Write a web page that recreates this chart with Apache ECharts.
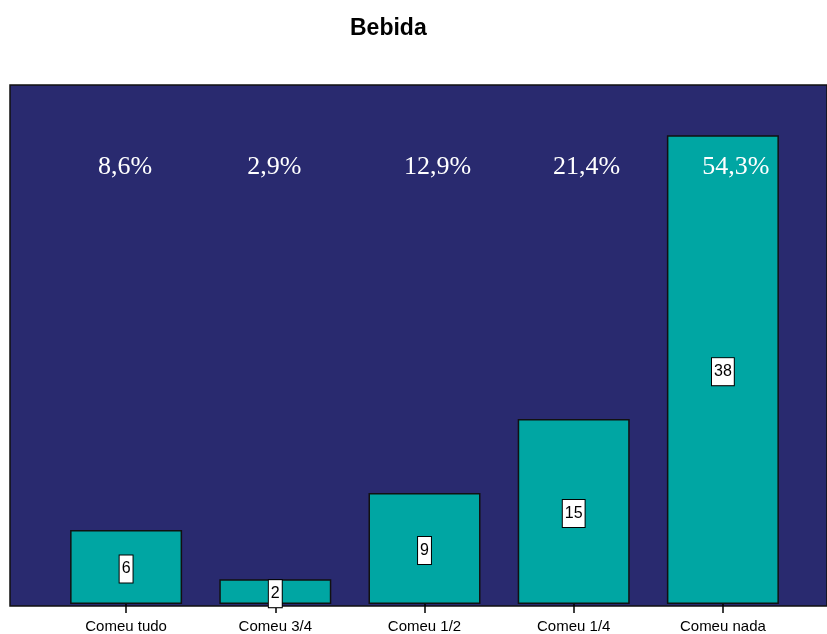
<!DOCTYPE html>
<html>
<head>
<meta charset="utf-8">
<script src="https://cdn.jsdelivr.net/npm/echarts@6/dist/echarts.min.js"></script>
<style>
  html, body { margin: 0; padding: 0; background: #ffffff; }
  #chart { width: 827px; height: 634px; }
</style>
</head>
<body>
<div id="chart"></div>
<script>
// Categories and counts
var categories = ['Comeu tudo', 'Comeu 3/4', 'Comeu 1/2', 'Comeu 1/4', 'Comeu nada'];
var counts = [6, 2, 9, 15, 38];
var yMax = 42;
var pctLevel = 35.4; // height (in count units) where the percentage row sits

var total = counts.reduce(function (a, b) { return a + b; }, 0);
var percentLabels = counts.map(function (c) {
  return (c / total * 100).toFixed(1).replace('.', ',') + '%';
});

var chart = echarts.init(document.getElementById('chart'));

chart.setOption({
  animation: false,
  backgroundColor: '#ffffff',
  title: {
    text: 'Bebida',
    left: 345,
    top: 12,
    textStyle: { fontFamily: 'Liberation Sans, Arial, sans-serif', fontSize: 23, fontWeight: 'bold', color: '#000' }
  },
  grid: [
    // dark panel behind the bars
    { left: 10, right: 0, top: 85, bottom: 28, show: true, backgroundColor: '#292a6f', borderColor: '#111', borderWidth: 1.5 },
    // bars
    { left: 51.5, right: 29.5, top: 86, bottom: 28 }
  ],
  xAxis: [
    { gridIndex: 0, type: 'value', min: 0, max: 1, show: false },
    {
      gridIndex: 1,
      type: 'category',
      data: categories,
      axisLine: { show: false },
      axisTick: { show: true, alignWithLabel: true, length: 9, lineStyle: { color: '#000', width: 1.5 } },
      axisLabel: { color: '#000', fontFamily: 'Liberation Sans, Arial, sans-serif', fontSize: 15, margin: 15 }
    }
  ],
  yAxis: [
    { gridIndex: 0, type: 'value', min: 0, max: 1, show: false },
    { gridIndex: 1, type: 'value', min: 0, max: yMax, show: false }
  ],
  series: [
    {
      type: 'bar',
      xAxisIndex: 1,
      yAxisIndex: 1,
      data: counts,
      barWidth: 112,
      itemStyle: { color: '#00a6a3', borderColor: '#111', borderWidth: 1.5 },
      label: {
        show: true,
        position: 'inside',
        offset: [0, 2],
        color: '#000',
        fontFamily: 'Liberation Sans, Arial, sans-serif',
        fontSize: 16,
        backgroundColor: '#ffffff',
        borderColor: '#000',
        borderWidth: 1,
        padding: [6, 2, 5, 2]
      }
    },
    {
      type: 'scatter',
      xAxisIndex: 1,
      yAxisIndex: 1,
      symbolSize: 0,
      silent: true,
      z: 5,
      itemStyle: { opacity: 1 },
      data: categories.map(function (c, i) {
        return {
          value: [i, pctLevel],
          label: { offset: [percentLabels[i].length > 4 ? 13 : -1, 0] }
        };
      }),
      label: {
        show: true,
        position: 'inside',
        color: '#ffffff',
        opacity: 1,
        fontFamily: 'Liberation Serif, Times New Roman, serif',
        fontSize: 26,
        formatter: function (p) { return percentLabels[p.dataIndex]; }
      }
    }
  ]
});
</script>
</body>
</html>
